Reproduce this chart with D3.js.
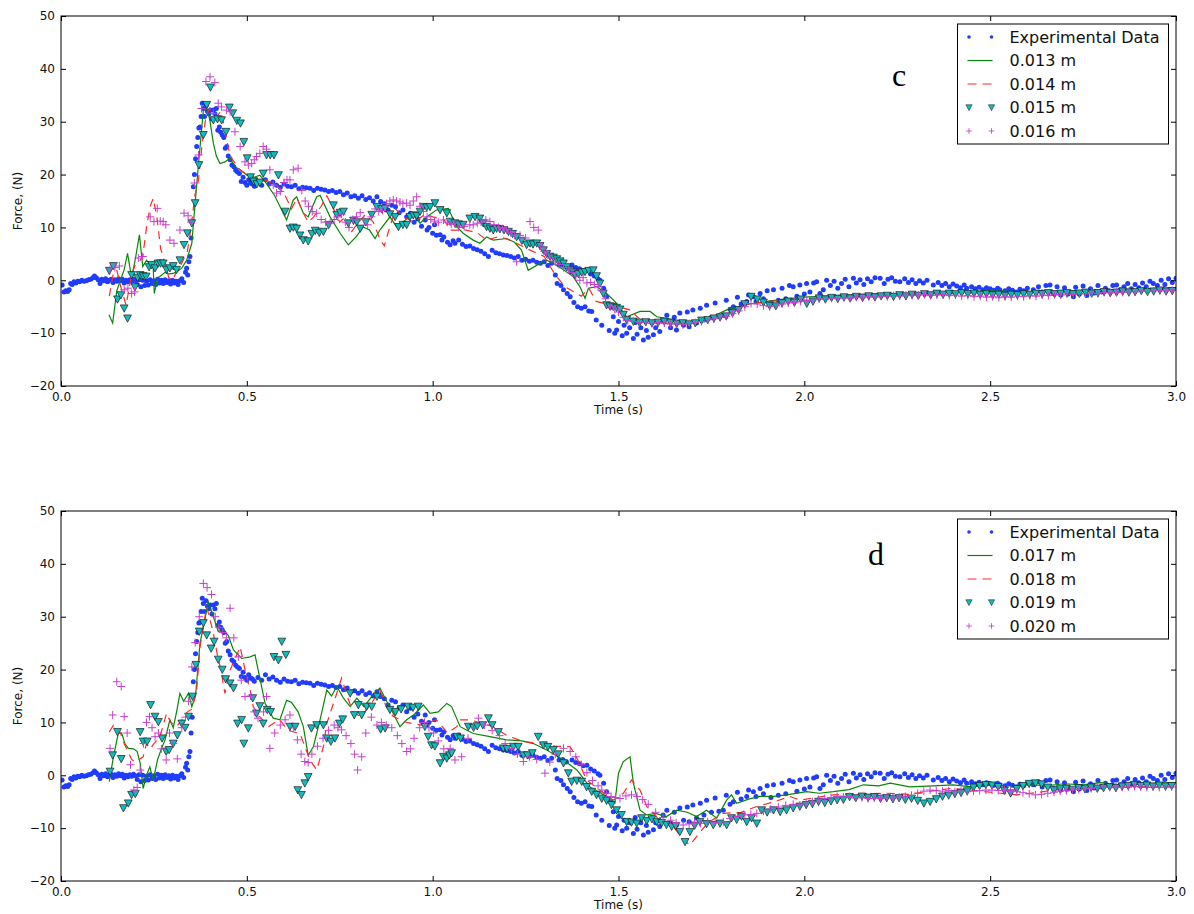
<!DOCTYPE html>
<html>
<head>
<meta charset="utf-8">
<script src="https://cdnjs.cloudflare.com/ajax/libs/d3/7.8.5/d3.min.js"></script>
<style>
body { margin: 0; background: #fff; }
text { font-family: 'DejaVu Sans', sans-serif; }
</style>
</head>
<body>
<div id="chart"></div>
<script>
(function() {
const width = 1194,
      height = 914

// experimental force trace, shared by both panels  [time s, force N]
const expData = [
  [0.003,-0.9],[0.008,-2.2],[0.013,-2.0],[0.018,-2.1],[0.022,-1.8],[0.026,-0.6],[0.03,-0.8],[0.035,-0.3],[0.04,-0.5],[0.045,-0.2],
  [0.05,-0.3],[0.056,0],[0.062,-0.2],[0.068,-0.1],[0.074,0.1],[0.08,0.2],[0.086,0.5],[0.09,0.8],[0.095,0.5],[0.1,0.1],
  [0.105,-0.6],[0.11,0.2],[0.115,-0.1],[0.12,0.3],[0.125,-0.3],[0.13,0],[0.135,0.2],[0.14,-0.4],[0.145,0.1],[0.15,-0.2],
  [0.155,0.3],[0.16,-0.1],[0.165,0.2],[0.17,-0.5],[0.175,0],[0.18,-0.3],[0.185,0.1],[0.19,-0.2],[0.195,0.2],[0.2,-0.1],
  [0.205,-0.8],[0.21,0.1],[0.215,-1.2],[0.22,0],[0.225,-1.0],[0.23,-0.2],[0.235,-0.9],[0.24,0.1],[0.245,-0.6],[0.25,-0.1],
  [0.255,-0.8],[0.26,0.2],[0.265,-0.5],[0.27,0],[0.275,-0.6],[0.28,0.1],[0.285,-0.4],[0.29,-0.1],[0.295,-0.7],[0.3,0],
  [0.305,-0.5],[0.31,-0.2],[0.315,-0.8],[0.32,-0.1],[0.325,0.3],[0.33,-0.4],[0.335,1.5],[0.338,2.3],[0.341,1.0],[0.344,3.5],
  [0.347,4.5],[0.35,8.0],[0.353,11],[0.356,17.7],[0.359,20],[0.362,23],[0.365,25.3],[0.368,27],[0.371,28.8],[0.374,29],
  [0.377,31],[0.38,33.5],[0.383,32.5],[0.386,31],[0.39,33],[0.394,32],[0.398,31.5],[0.402,32.2],[0.406,30.5],[0.41,32.2],
  [0.414,31.5],[0.418,32.5],[0.422,28.4],[0.426,29],[0.43,28],[0.434,27.5],[0.438,27],[0.442,25],[0.446,25.3],[0.45,23.5],
  [0.455,22.8],[0.46,21.8],[0.465,21.5],[0.47,20.8],[0.475,20.5],[0.48,20.2],[0.485,18.7],[0.49,19.5],[0.495,18.5],[0.5,18],
  [0.505,19],[0.51,18.4],[0.515,18.2],[0.52,17.8],[0.53,18.5],[0.54,18],[0.55,19],[0.56,18.2],[0.57,18.6],[0.58,18],
  [0.59,17.6],[0.6,18.2],[0.61,17.8],[0.62,17.7],[0.63,18.0],[0.64,17.3],[0.65,17.6],[0.66,17.5],[0.67,17.4],[0.68,17.0],
  [0.69,17.4],[0.7,17.2],[0.71,17.1],[0.72,16.8],[0.73,17.0],[0.74,16.6],[0.75,16.8],[0.76,16.2],[0.77,16.5],[0.78,15.8],
  [0.79,16.0],[0.8,15.5],[0.81,16.0],[0.82,15.3],[0.83,15.6],[0.84,15.0],[0.85,15.8],[0.86,14.9],[0.87,14.5],[0.88,13.3],
  [0.89,14.2],[0.9,13.9],[0.91,12.8],[0.92,13.3],[0.93,12.0],[0.94,12.7],[0.95,11.0],[0.96,11.6],[0.97,10.2],[0.98,11.4],
  [0.985,9.5],[0.99,10.0],[1.0,8.9],[1.005,10.5],[1.01,8.5],[1.02,8.6],[1.025,7.6],[1.03,8.2],[1.04,7.2],[1.047,6.7],
  [1.055,7.5],[1.06,7.0],[1.07,7.6],[1.08,6.8],[1.09,6.4],[1.1,6.5],[1.11,6.0],[1.12,5.8],[1.13,5.5],[1.14,5.0],
  [1.15,4.5],[1.16,5.7],[1.17,5.2],[1.18,5.0],[1.19,4.8],[1.2,4.7],[1.21,4.5],[1.22,4.2],[1.23,4.5],[1.24,3.8],
  [1.25,4.0],[1.26,3.6],[1.27,3.8],[1.28,3.4],[1.29,3.2],[1.3,3.5],[1.31,2.8],[1.32,3.2],[1.33,1.0],[1.335,-0.6],
  [1.34,2.9],[1.345,-1.0],[1.35,3.0],[1.352,-1.8],[1.36,2.5],[1.362,-2.5],[1.37,-3.1],[1.375,2.9],[1.38,-4.2],[1.385,2.4],
  [1.39,-5.0],[1.395,2.2],[1.40,-5.3],[1.405,1.8],[1.41,-5.0],[1.415,1.9],[1.42,-5.8],[1.425,1.2],[1.428,-5.9],[1.435,0.8],
  [1.44,-7.5],[1.445,0.3],[1.45,0],[1.455,-8.5],[1.46,-1.5],[1.468,-3.1],[1.475,-9.5],[1.48,-5.0],[1.486,-6.9],[1.49,-10.0],
  [1.495,-9.4],[1.5,-7.8],[1.51,-10.5],[1.515,-8.5],[1.522,-10],[1.53,-9.0],[1.54,-11],[1.545,-8.0],[1.55,-10.2],[1.56,-9.0],
  [1.567,-11.3],[1.575,-9.5],[1.58,-10.8],[1.59,-8.0],[1.594,-10.3],[1.6,-9.0],[1.611,-9.7],[1.62,-7.5],[1.63,-6.6],[1.64,-9.0],
  [1.65,-7.0],[1.656,-9.4],[1.665,-6.2],[1.675,-8.5],[1.685,-6.0],[1.69,-8.8],[1.7,-5.6],[1.71,-8.1],[1.72,-5.3],[1.73,-7.5],
  [1.737,-4.7],[1.75,-7.0],[1.76,-4.3],[1.77,-6.8],[1.782,-6.6],[1.79,-3.8],[1.8,-5.5],[1.809,-5],[1.82,-3.2],[1.83,-4.5],
  [1.845,-4],[1.85,-2.8],[1.863,-3.1],[1.87,-4.0],[1.881,-2.5],[1.89,-3.5],[1.9,-2.0],[1.91,-4.2],[1.917,-1.8],[1.93,-3.8],
  [1.94,-1.5],[1.95,-3.5],[1.96,-1.0],[1.97,-1.2],[1.98,-3.0],[1.988,-0.9],[2.0,-2.6],[2.006,-0.6],[2.015,-2.2],[2.025,-0.5],
  [2.033,-0.3],[2.042,-2.5],[2.051,-1.8],[2.06,0],[2.07,-1.0],[2.08,-0.2],[2.09,-1.5],[2.1,-0.6],[2.11,0.2],[2.12,-1.2],
  [2.132,0.4],[2.14,-0.5],[2.15,0.1],[2.16,-0.8],[2.17,0.3],[2.18,-0.3],[2.19,0.5],[2.204,0.4],[2.215,-0.6],[2.225,0.2],
  [2.235,0.5],[2.245,-0.2],[2.257,-0.3],[2.27,0.3],[2.28,-0.4],[2.29,0.1],[2.3,-0.6],[2.31,-0.1],[2.32,-0.5],[2.33,0],
  [2.347,-0.9],[2.36,-0.4],[2.37,-1.0],[2.38,-0.6],[2.39,-1.2],[2.4,-0.7],[2.41,-1.1],[2.42,-1.4],[2.43,-0.9],[2.437,-1.5],
  [2.45,-1.2],[2.46,-1.6],[2.47,-1.3],[2.48,-1.8],[2.49,-1.4],[2.5,-1.6],[2.51,-1.9],[2.52,-1.5],[2.526,-1.8],[2.54,-2.0],
  [2.55,-1.6],[2.56,-1.9],[2.57,-2.2],[2.58,-1.7],[2.59,-2.0],[2.6,-1.5],[2.616,-1.8],[2.63,-1.2],[2.64,-2.2],[2.65,-1.0],
  [2.661,-0.9],[2.67,-2.5],[2.68,-1.2],[2.69,-2.8],[2.7,-1.4],[2.71,-2.6],[2.724,-3.1],[2.73,-1.3],[2.74,-2.6],[2.75,-1.1],
  [2.76,-2.9],[2.77,-1.6],[2.78,-2.4],[2.79,-1.0],[2.8,-2.2],[2.81,-1.5],[2.82,-2.0],[2.83,-1.0],[2.84,-0.9],[2.85,-1.8],
  [2.86,-1.2],[2.87,-0.6],[2.88,-1.6],[2.89,-0.8],[2.9,-1.4],[2.91,-0.5],[2.92,-1.2],[2.93,-0.2],[2.939,-0.6],[2.95,-1.0],
  [2.96,0],[2.97,-0.8],[2.98,0.3],[2.99,-0.4],[3.0,0.4]
]

// panel c
const namesC = ['Experimental Data', '0.013 m', '0.014 m', '0.015 m', '0.016 m']

const cGreen = [
  [0.129,-6.5],[0.139,-8.1],[0.15,-2],[0.16,0],[0.17,2],[0.179,5.1],[0.19,0.4],[0.2,4],[0.211,8.6],[0.22,2.6],
  [0.23,3.8],[0.24,3.0],[0.248,2.6],[0.251,-2.5],[0.26,0.5],[0.266,0.7],[0.28,1.5],[0.29,1.2],[0.302,1.3],[0.315,1.8],
  [0.325,2.3],[0.338,3.8],[0.352,7],[0.36,13.9],[0.371,22.8],[0.383,32.2],[0.392,32.5],[0.40,30.5],[0.41,25.9],[0.418,23.5],
  [0.428,22.1],[0.441,22.4],[0.455,23.1],[0.468,21.5],[0.482,20.9],[0.5,19.9],[0.52,19.5],[0.535,19.9],[0.553,18.3],[0.575,16],
  [0.598,12.7],[0.607,11.4],[0.625,15.2],[0.634,15.8],[0.652,12.7],[0.665,12],[0.688,15.8],[0.697,16.1],[0.724,12],[0.751,8.9],
  [0.773,6.7],[0.795,8.3],[0.813,10.1],[0.83,9.5],[0.845,7.9],[0.858,9.5],[0.885,12],[0.903,10.1],[0.92,11],[0.948,12.7],
  [0.966,10.8],[0.984,12],[1.01,13.3],[1.042,13.6],[1.065,10.1],[1.082,8.9],[1.109,7.6],[1.127,7],[1.145,8.2],[1.163,7.6],
  [1.199,7.9],[1.22,7.2],[1.239,5.7],[1.257,1.9],[1.289,3.2],[1.307,3.8],[1.33,3.0],[1.352,2.0],[1.378,0.7],[1.396,-1.2],
  [1.41,-3.4],[1.419,-1.5],[1.441,-1.2],[1.468,-2.5],[1.49,-4],[1.522,-6.9],[1.558,-5.9],[1.585,-5.9],[1.603,-6.9],[1.65,-7.5],
  [1.701,-8.1],[1.75,-7.0],[1.791,-5.6],[1.85,-4.5],[1.9,-4.0],[1.95,-3.5],[2.0,-3.2],[2.1,-2.8],[2.2,-2.5],[2.3,-2.6],
  [2.4,-2.2],[2.5,-2.0],[2.6,-2.2],[2.7,-2.0],[2.8,-1.8],[2.9,-1.6],[3.0,-1.4]
]

const cRed = [
  [0.13,-3],[0.14,1],[0.15,2],[0.16,-1],[0.175,-4.7],[0.19,1],[0.2,3],[0.21,3.5],[0.22,4.5],[0.23,10],
  [0.24,14],[0.248,15.5],[0.258,12],[0.268,6],[0.28,3.2],[0.29,0.5],[0.3,0],[0.31,1.5],[0.32,2.5],[0.33,4],
  [0.34,5.5],[0.35,10],[0.36,16],[0.37,19],[0.38,26],[0.39,31],[0.40,32.5],[0.41,31.5],[0.42,31],[0.43,32],
  [0.44,29],[0.45,25],[0.46,23],[0.47,22],[0.48,21],[0.5,20],[0.52,19.5],[0.55,19],[0.58,18],[0.6,16.5],
  [0.61,15],[0.62,13.5],[0.635,15.5],[0.65,13],[0.665,11],[0.68,12],[0.7,14],[0.715,16],[0.73,14],[0.75,11],
  [0.765,12],[0.78,9],[0.8,11],[0.82,12.5],[0.84,11],[0.86,7.5],[0.87,6.5],[0.88,9],[0.9,13.5],[0.92,12],
  [0.95,11],[0.98,12.5],[1.0,12],[1.03,11.5],[1.047,9.5],[1.09,9.5],[1.12,9],[1.145,7.6],[1.18,8.3],[1.21,7.5],
  [1.24,6.5],[1.262,5.7],[1.3,4.5],[1.33,1],[1.356,-1.2],[1.4,-3],[1.42,-1.5],[1.44,-4],[1.47,-4.5],[1.5,-5],
  [1.53,-5.6],[1.56,-7.5],[1.6,-8],[1.65,-8.2],[1.7,-8],[1.75,-7],[1.8,-6],[1.85,-4.5],[1.9,-4],[1.95,-3.8],
  [2.0,-3.5],[2.1,-3.2],[2.2,-3],[2.3,-2.8],[2.4,-2.5],[2.5,-2.2],[2.6,-2.3],[2.7,-2.1],[2.8,-2.0],[2.9,-1.8],[3.0,-1.6]
]

const cTri = [
  [0.13,1.8],[0.141,2.7],[0.152,-3.6],[0.161,-2.8],[0.17,-5.3],[0.179,-7.2],[0.19,1],[0.199,-1.3],[0.206,0.5],[0.213,1],
  [0.221,0.8],[0.229,0.7],[0.237,2.5],[0.244,2.9],[0.253,2.3],[0.261,3.2],[0.268,3.2],[0.275,3.2],[0.284,2],[0.293,2.3],
  [0.302,2.7],[0.311,2],[0.32,3.8],[0.331,6.7],[0.34,8.9],[0.352,10.8],[0.361,14.6],[0.371,21.8],[0.383,27.5],[0.392,33.2],
  [0.402,36.5],[0.41,30.3],[0.421,30.5],[0.432,30.3],[0.444,28.1],[0.453,32.7],[0.462,31.6],[0.473,30.2],[0.483,29.7],[0.492,26.2],
  [0.501,23.1],[0.51,19.5],[0.518,18.7],[0.527,18.2],[0.535,18.5],[0.544,20.2],[0.553,23.7],[0.563,23.7],[0.573,23.7],[0.585,19.9],
  [0.603,13],[0.616,9.8],[0.625,10],[0.634,9.8],[0.643,8.5],[0.652,7.6],[0.665,7.4],[0.675,8.8],[0.684,9.4],[0.695,9],
  [0.706,9.2],[0.72,10.5],[0.733,14.2],[0.742,12.4],[0.751,12.8],[0.76,13],[0.773,10.8],[0.787,11.3],[0.796,11],[0.805,9.8],
  [0.82,11],[0.836,12.4],[0.85,13.9],[0.862,13.5],[0.872,13.6],[0.885,12.5],[0.899,12],[0.908,10.1],[0.92,10.5],[0.93,10.5],
  [0.939,12],[0.948,12.3],[0.957,12.2],[0.966,13],[0.975,13.9],[0.984,13.8],[0.993,13.9],[1.006,14.6],[1.02,13.3],[1.038,12.7],
  [1.047,11.1],[1.06,10.8],[1.07,10.6],[1.082,10.5],[1.1,11.7],[1.114,12],[1.127,11.7],[1.136,10.8],[1.145,10.1],[1.154,9.8],
  [1.163,9.5],[1.172,9.8],[1.181,9.7],[1.192,9.5],[1.204,9.2],[1.215,8.8],[1.226,8.2],[1.24,7.5],[1.253,6.7],[1.262,7],
  [1.27,6.8],[1.28,7],[1.289,6.5],[1.298,5.7],[1.307,5],[1.316,4.5],[1.325,4.3],[1.334,4],[1.343,3.6],[1.352,3.2],
  [1.361,2.5],[1.37,1.9],[1.378,1.5],[1.383,1],[1.392,1.2],[1.401,1.5],[1.41,1.6],[1.42,1.8],[1.432,1.9],[1.441,0.8],
  [1.45,-0.6],[1.459,-2.5],[1.468,-4.7],[1.477,-4.9],[1.486,-5],[1.495,-5.2],[1.504,-5.5],[1.513,-6.5],[1.522,-7.5]
]
// from t = 1.54 s onward, one value every 1/60 s
const cTriTail = [
  -7.8,-8.0,-7.9,-8.1,-8.0,-7.8,-8.0,-8.2,-8.1,-8.3,
  -8.1,-7.6,-7.5,-7.2,-7.0,-6.8,-6.2,-5.6,-4.5,-3.1,
  -3.6,-4.2,-4.8,-4.9,-4.3,-4.0,-4.2,-3.6,-4.4,-4.0,
  -3.4,-3.6,-3.3,-3.5,-3.2,-3.4,-3.1,-3.3,-3.0,-3.2,
  -3.0,-2.9,-3.1,-2.8,-3.0,-2.7,-2.9,-2.6,-2.8,-2.5,
  -2.7,-2.5,-2.6,-2.4,-2.6,-2.5,-2.7,-2.6,-2.8,-2.7,
  -2.9,-2.7,-2.8,-2.6,-2.7,-2.5,-2.6,-2.4,-2.6,-2.5,
  -2.4,-2.6,-2.5,-2.3,-2.5,-2.4,-2.2,-2.4,-2.3,-2.1,
  -2.3,-2.2,-2.0,-2.2,-2.1,-1.9,-2.1,-2.0
]

const cPlus = [
  [0.132,2.1],[0.145,2.4],[0.157,2.7],[0.17,-1.8],[0.18,-1.5],[0.19,-2.5],[0.198,-2.2],[0.208,4.2],[0.22,4.5],[0.24,12],
  [0.25,11.1],[0.259,13.6],[0.267,11.2],[0.275,11.1],[0.282,10.5],[0.293,7.6],[0.304,7],[0.32,9.5],[0.331,12.7],[0.342,12.2],
  [0.35,11],[0.359,18.4],[0.37,23.7],[0.378,32.5],[0.39,37.6],[0.401,38.5],[0.414,37.4],[0.41,31.6],[0.423,33.5],[0.432,32.8],
  [0.445,32.2],[0.455,31.9],[0.468,28.1],[0.482,25.3],[0.495,22.4],[0.504,21.8],[0.513,22.1],[0.52,22.8],[0.526,23.4],[0.535,24],
  [0.544,25.3],[0.553,24.8],[0.562,20.9],[0.571,18],[0.58,16.5],[0.59,16.8],[0.6,18.5],[0.608,19],[0.616,19],[0.625,20.9],
  [0.638,21.2],[0.648,17],[0.657,15],[0.666,14],[0.676,13],[0.688,12.7],[0.7,11.5],[0.712,11],[0.724,10.8],[0.735,11.5],
  [0.745,12],[0.755,12.5],[0.765,11],[0.775,10],[0.785,11.5],[0.795,12],[0.805,12.8],[0.815,11.5],[0.825,10.5],[0.835,12],
  [0.845,13.5],[0.855,13],[0.865,13.2],[0.876,14.5],[0.885,15],[0.894,15.2],[0.903,15],[0.912,14.8],[0.92,14.5],[0.93,14.6],
  [0.939,14.2],[0.948,15],[0.957,15.8],[0.966,14],[0.975,13],[0.985,12],[0.995,11.5],[1.005,11.2],[1.015,11],[1.029,11.4],
  [1.04,11],[1.05,10.6],[1.06,10.8],[1.07,10],[1.085,10.2],[1.1,10.5],[1.109,10.5],[1.12,10.8],[1.13,11],[1.143,11.4],
  [1.154,11.1],[1.165,10.5],[1.177,10],[1.188,9.8],[1.199,9.5],[1.21,9],[1.22,8.5],[1.226,3.5],[1.235,8.5],[1.25,8],
  [1.262,11.1],[1.272,10],[1.284,9.5],[1.29,6.5],[1.3,5.5],[1.307,5],[1.318,4.2],[1.33,3.5],[1.34,3],[1.352,2.4],
  [1.365,2],[1.375,1.5],[1.385,0.8],[1.396,0],[1.405,0.5],[1.415,-0.5],[1.425,-0.4],[1.435,-0.8],[1.445,-1.2],[1.455,-2],
  [1.465,-3.5],[1.478,-5],[1.49,-5.5],[1.5,-6],[1.513,-7],[1.525,-7.6]
]
const cPlusTail = [
  -7.8,-8.0,-7.9,-8.2,-8.0,-8.1,-8.3,-8.2,-8.4,-8.2,
  -8.0,-7.8,-7.5,-7.3,-7.0,-6.8,-6.3,-5.8,-5.0,-4.4,
  -4.5,-4.8,-5.0,-4.8,-4.5,-4.3,-4.2,-4.0,-3.8,-3.7,
  -3.5,-3.6,-3.4,-3.5,-3.3,-3.4,-3.2,-3.3,-3.1,-3.2,
  -3.0,-3.1,-2.9,-3.0,-2.8,-2.9,-2.8,-2.7,-2.9,-2.8,
  -2.7,-2.9,-2.8,-3.0,-2.9,-3.1,-3.0,-3.2,-3.1,-3.3,
  -3.1,-3.2,-3.0,-3.1,-2.9,-3.0,-2.8,-2.9,-2.7,-2.8,
  -2.6,-2.7,-2.5,-2.6,-2.4,-2.5,-2.3,-2.4,-2.2,-2.3,
  -2.1,-2.2,-2.0,-2.1,-2.0,-1.9,-2.0,-1.9
]

// panel d
const namesD = ['Experimental Data', '0.017 m', '0.018 m', '0.019 m', '0.020 m']

const dGreen = [
  [0.13,-1.2],[0.141,3.5],[0.154,7.9],[0.163,8],[0.172,6],[0.181,5.1],[0.195,5],[0.205,4.5],[0.213,2.3],[0.221,-2.5],
  [0.23,0],[0.239,1.6],[0.248,-0.9],[0.26,3],[0.27,5],[0.28,6.7],[0.293,10.5],[0.302,9],[0.311,12],[0.32,15.5],
  [0.33,14],[0.343,15.5],[0.352,13],[0.362,15],[0.374,25],[0.387,29.4],[0.396,32.8],[0.41,30],[0.423,27.2],[0.436,27.5],
  [0.45,26.5],[0.464,23.7],[0.486,22.1],[0.509,22.4],[0.522,22.8],[0.535,18.4],[0.549,13.6],[0.571,10.8],[0.589,10.5],[0.607,14.2],
  [0.62,13.8],[0.638,12],[0.652,9.2],[0.665,3.8],[0.679,5.4],[0.697,10.5],[0.715,16.1],[0.728,15],[0.742,16.8],[0.76,14.6],
  [0.778,13],[0.796,14.6],[0.815,13],[0.836,14.9],[0.858,16.5],[0.876,14],[0.894,11.7],[0.912,9.2],[0.93,10.5],[0.95,11.5],
  [0.975,13.3],[0.993,11.7],[1.015,12],[1.038,13.6],[1.051,13],[1.074,9.2],[1.109,7.9],[1.154,7.3],[1.199,6.7],[1.24,6.5],
  [1.271,6],[1.307,4.8],[1.352,2.9],[1.388,1],[1.423,-2.2],[1.468,-4],[1.49,-5.3],[1.5,0.4],[1.513,2.6],[1.531,3.5],
  [1.54,-1.5],[1.558,-6.6],[1.576,-7.5],[1.6,-7.2],[1.629,-7.8],[1.656,-6.6],[1.685,-7],[1.71,-7.8],[1.737,-6.6],[1.764,-8.1],
  [1.791,-4.7],[1.804,-3.7],[1.818,-5.3],[1.85,-4.5],[1.88,-4],[1.917,-4],[1.952,-3.7],[2.006,-3.1],[2.04,-3.4],[2.078,-3.1],
  [2.12,-2.7],[2.159,-1.8],[2.2,-2.0],[2.231,-1.5],[2.284,-2.2],[2.347,-2.0],[2.4,-1.8],[2.45,-2.2],[2.5,-1.8],[2.55,-2.0],
  [2.6,-1.7],[2.65,-2.0],[2.7,-1.6],[2.75,-1.8],[2.796,-1.4],[2.85,-1.8],[2.9,-1.6],[2.95,-1.5],[3.0,-1.4]
]

const dRed = [
  [0.13,8.2],[0.141,9.5],[0.15,9],[0.16,8],[0.17,6],[0.18,4.5],[0.19,3],[0.2,2.5],[0.208,2.9],[0.221,3.5],
  [0.23,6],[0.24,5],[0.25,6],[0.266,7.3],[0.284,11.7],[0.295,10],[0.311,9.2],[0.325,10.5],[0.34,12],[0.352,12.5],
  [0.365,16.1],[0.374,24.3],[0.392,31.9],[0.41,26.9],[0.42,23],[0.43,20],[0.441,15.5],[0.455,19.9],[0.468,22],[0.482,24.3],
  [0.495,20],[0.513,14.9],[0.517,13],[0.535,11.1],[0.558,9.2],[0.575,10],[0.589,10.5],[0.61,8.5],[0.643,7.9],[0.67,2.9],
  [0.688,1],[0.706,5.4],[0.715,9.8],[0.735,14],[0.755,18.4],[0.77,15],[0.785,12],[0.805,11.1],[0.83,13],[0.858,16.1],
  [0.875,13],[0.894,11.1],[0.93,10],[0.97,9.5],[1.01,10.5],[1.04,8],[1.065,9.2],[1.074,10.5],[1.1,10.5],[1.163,9.2],
  [1.2,7.5],[1.24,6.5],[1.28,6],[1.33,5.5],[1.37,5.4],[1.39,3],[1.414,-0.9],[1.45,-2.8],[1.486,-4.7],[1.513,-3.4],
  [1.535,-0.9],[1.558,-2.8],[1.576,-5.9],[1.611,-8.5],[1.64,-9],[1.674,-12.2],[1.692,-13.2],[1.71,-11.6],[1.74,-9],[1.782,-7.2],
  [1.83,-7],[1.872,-5.9],[1.92,-5],[1.961,-4],[1.988,-4.7],[2.03,-4.2],[2.078,-3.7],[2.15,-3.5],[2.222,-3.4],[2.28,-3.6],
  [2.33,-3.1],[2.392,-2.5],[2.45,-2.8],[2.5,-3.2],[2.571,-3.7],[2.62,-3.3],[2.706,-2.5],[2.8,-2.4],[2.885,-2.2],[3.0,-2.2]
]

const dTri = [
  [0.132,0.7],[0.139,3.8],[0.152,8.2],[0.162,3.1],[0.168,-6.2],[0.181,-5.3],[0.19,-3.7],[0.2,-3.5],[0.213,8.2],[0.221,6.4],
  [0.232,6.4],[0.241,13.3],[0.253,11.1],[0.262,10.1],[0.272,7],[0.283,4.5],[0.291,4.8],[0.302,6],[0.313,7.6],[0.325,9.8],
  [0.334,9],[0.343,11.1],[0.354,14.9],[0.363,20.9],[0.372,27.2],[0.383,28.8],[0.392,26.5],[0.404,24],[0.412,25.3],[0.423,21.9],
  [0.434,20],[0.443,18.2],[0.455,17.4],[0.464,16.5],[0.475,9.8],[0.486,10.5],[0.492,6],[0.504,8.9],[0.516,14.6],[0.526,11.7],
  [0.535,13.1],[0.544,9.8],[0.555,12.4],[0.564,12],[0.573,22.4],[0.585,21.8],[0.594,25.3],[0.605,22.8],[0.616,9.2],[0.63,9.2],
  [0.637,-2.8],[0.647,-3.7],[0.656,-1.5],[0.665,-0.3],[0.674,8.9],[0.688,9.5],[0.706,9.5],[0.715,7],[0.726,6.4],[0.737,7],
  [0.749,9.8],[0.758,10.6],[0.778,15.5],[0.789,11.4],[0.8,13.3],[0.809,11.4],[0.822,13],[0.836,13],[0.85,14.9],[0.86,8.7],
  [0.872,8.9],[0.885,12.4],[0.9,12],[0.915,12.5],[0.934,13],[0.947,12.8],[0.961,13],[0.979,9.2],[0.988,7.3],[0.997,5.7],
  [1.006,5.5],[1.02,2.3],[1.029,3.5],[1.038,3.2],[1.045,3.8],[1.051,4.2],[1.065,7.3],[1.075,7],[1.096,9.2],[1.11,9],
  [1.12,9.3],[1.135,9.5],[1.15,10.8],[1.16,9.5],[1.177,8.2],[1.19,5.1],[1.2,5],[1.217,5.4],[1.23,5.4],[1.244,3.8],
  [1.255,3.8],[1.268,4.2],[1.284,7.3],[1.298,5.7],[1.31,5.4],[1.325,4.8],[1.338,4],[1.352,2.3],[1.365,0.4],[1.374,-1.2],
  [1.388,-1.0],[1.401,-1.2],[1.414,-2.2],[1.428,-3.1],[1.441,-3.7],[1.455,-4.4],[1.468,-4.8],[1.481,-5.6],[1.495,-6.6],[1.508,-7.5],
  [1.522,-8.8],[1.535,-8.9],[1.549,-9.1],[1.562,-8.1],[1.576,-8.6],[1.59,-8.3],[1.603,-8.8],[1.616,-9],[1.629,-9.4],[1.643,-9.7],
  [1.654,-9.6],[1.665,-10.7],[1.679,-12.6],[1.692,-10.7],[1.705,-9.5],[1.719,-8.8],[1.737,-9.2],[1.755,-9.4],[1.773,-9.1],[1.791,-9.4],
  [1.804,-8.1],[1.818,-8.4],[1.831,-7.8],[1.845,-8.8],[1.858,-8.1],[1.872,-9.1],[1.885,-6.6],[1.9,-7],[1.917,-6.6],[1.935,-6.9],
  [1.952,-6.6],[1.97,-6.2],[1.988,-5.9]
]
// from t = 2.005 s onward, one value every 1/60 s
const dTriTail = [
  -5.6,-5.4,-5.0,-5.2,-4.9,-4.7,-4.6,-4.1,-4.3,-4.0,
  -4.2,-4.1,-4.4,-4.3,-4.5,-4.3,-4.6,-4.4,-4.8,-5.3,
  -5.0,-4.5,-4.0,-3.8,-3.5,-3.3,-3.0,-2.3,-2.0,-1.8,
  -1.9,-2.2,-2.9,-3.4,-2.6,-2.0,-1.6,-1.5,-1.7,-2.3,
  -2.8,-2.6,-2.5,-2.7,-2.4,-2.6,-2.3,-2.5,-2.4,-2.2,
  -2.4,-2.1,-2.0,-1.8,-2.0,-1.9,-2.1,-1.9,-2.1,-2.0
]

const dPlus = [
  [0.132,5.1],[0.139,11.4],[0.15,17.7],[0.162,16.8],[0.17,11.1],[0.178,8],[0.187,2],[0.196,-2.8],[0.205,-2.3],[0.213,1],
  [0.222,6],[0.23,10],[0.238,11.1],[0.245,9],[0.253,7.3],[0.262,8],[0.27,5],[0.283,2.9],[0.292,8],[0.302,6],
  [0.313,3.1],[0.325,9],[0.335,11],[0.343,14],[0.352,20.5],[0.361,25.1],[0.372,30],[0.383,36.3],[0.393,35.5],[0.405,34.2],
  [0.415,30],[0.425,28],[0.435,27],[0.445,26],[0.455,31.6],[0.465,26],[0.477,22.4],[0.485,18],[0.495,14.9],[0.51,15],
  [0.52,12],[0.53,10.8],[0.545,12],[0.553,14.9],[0.562,5.1],[0.575,8],[0.59,9.5],[0.603,10.5],[0.616,11.4],[0.625,9],
  [0.636,6.7],[0.646,4],[0.656,2.6],[0.665,2.4],[0.675,4],[0.69,5.5],[0.705,7],[0.72,8.5],[0.735,9.5],[0.745,9],
  [0.755,8.6],[0.767,7.5],[0.78,6],[0.79,4],[0.798,1],[0.809,3.5],[0.82,8],[0.835,11],[0.85,9.5],[0.862,10],
  [0.875,9.5],[0.89,9],[0.905,7.5],[0.917,6],[0.93,4.5],[0.94,5],[0.95,7],[0.965,9],[0.978,10],[0.99,9],
  [1.002,8],[1.015,6.5],[1.03,5],[1.047,5.1],[1.06,2.9],[1.078,3.5],[1.095,7],[1.11,9],[1.123,10.8],[1.14,9.5],
  [1.16,8.5],[1.18,7.5],[1.195,6],[1.212,5.1],[1.228,4],[1.244,2.6],[1.26,3.5],[1.28,3],[1.302,0.4],[1.315,2.5],
  [1.33,4],[1.352,5.1],[1.37,4.5],[1.385,3.5],[1.4,2],[1.415,0.5],[1.43,-1],[1.445,-2],[1.455,-2.8],[1.468,-3.4],
  [1.48,-4],[1.492,-4.2],[1.504,-4.4],[1.52,-3.9],[1.535,-3.7],[1.55,-4],[1.565,-4.6],[1.58,-5.5],[1.6,-7],[1.62,-8],
  [1.64,-8.5],[1.655,-9],[1.674,-9.4],[1.69,-9.2],[1.705,-9],[1.72,-9.1],[1.74,-8.8],[1.76,-8.9],[1.782,-8.8],[1.8,-8.2],
  [1.82,-7.8],[1.84,-7.5],[1.856,-7.4],[1.872,-7.2],[1.89,-6.8],[1.91,-6.4],[1.93,-6],[1.95,-5.7],[1.97,-5.5],[1.988,-5.6]
]
const dPlusTail = [
  -5.3,-5.0,-4.6,-4.4,-4.2,-4.0,-4.1,-4.0,-4.3,-4.2,
  -4.4,-4.3,-4.4,-4.2,-4.3,-4.1,-4.0,-3.8,-3.4,-3.0,
  -2.8,-2.9,-3.0,-2.9,-3.1,-3.0,-3.1,-3.0,-2.9,-2.8,
  -2.8,-2.9,-2.8,-2.9,-3.1,-3.3,-3.5,-3.7,-3.6,-3.4,
  -3.2,-3.0,-2.9,-2.8,-2.7,-2.6,-2.5,-2.3,-2.2,-2.3,
  -2.2,-2.3,-2.2,-2.1,-2.2,-2.3,-2.2,-2.3,-2.2,-2.2
]

const xTicks = [0, 0.5, 1.0, 1.5, 2.0, 2.5, 3.0]
const yTicks = [-20, -10, 0, 10, 20, 30, 40, 50]

function withTail(head, start, tail) {
  return head.concat(tail.map(function(v, i) { return [start + i / 60, v] }))
}

const panels = [
  { top: 16, letter: 'c', letterAt: [2.255, 36.8], names: namesC,
    green: cGreen, red: cRed, tri: withTail(cTri, 1.54, cTriTail), plus: withTail(cPlus, 1.54, cPlusTail) },
  { top: 511, letter: 'd', letterAt: [2.193, 39.8], names: namesD,
    green: dGreen, red: dRed, tri: withTail(dTri, 2.005, dTriTail), plus: withTail(dPlus, 2.005, dPlusTail) }
]

const plotLeft = 61,
      plotRight = 1176,
      plotH = 370

const svg = d3.select('#chart')
  .append('svg')
  .attr('width', width)
  .attr('height', height)
  .style('background', '#fff')

const x = d3.scaleLinear()
  .domain([0, 3])
  .range([plotLeft, plotRight])

const triPath = 'M-3.9,-3.4L3.9,-3.4L0,3.9Z'
const plusPath = 'M-4,0H4M0,-4V4'

const colors = {
  exp: '#1f3cff',
  green: '#0a860a',
  red: '#ff2a2a',
  tri: '#10bcbc',
  plus: '#c63fcf'
}

panels.forEach(drawPanel)

function drawPanel(p, idx) {
  const y = d3.scaleLinear()
    .domain([-20, 50])
    .range([p.top + plotH, p.top])

  const g = svg.append('g')

  svg.append('clipPath')
    .attr('id', 'clip' + idx)
    .append('rect')
    .attr('x', plotLeft)
    .attr('y', p.top)
    .attr('width', plotRight - plotLeft)
    .attr('height', plotH)

  const plot = g.append('g').attr('clip-path', 'url(#clip' + idx + ')')

  plot.selectAll('.exp')
    .data(expData)
    .enter().append('circle')
    .attr('class', 'exp')
    .attr('cx', function(d) { return x(d[0]) })
    .attr('cy', function(d) { return y(d[1]) })
    .attr('r', 2.5)
    .style('fill', colors.exp)

  const line = d3.line()
    .x(function(d) { return x(d[0]) })
    .y(function(d) { return y(d[1]) })

  plot.append('path')
    .datum(p.green)
    .attr('d', line)
    .style('fill', 'none')
    .style('stroke', colors.green)
    .style('stroke-width', 1.2)

  plot.append('path')
    .datum(p.red)
    .attr('d', line)
    .style('fill', 'none')
    .style('stroke', colors.red)
    .style('stroke-width', 1.2)
    .style('stroke-dasharray', '8,6')

  plot.selectAll('.tri')
    .data(p.tri)
    .enter().append('path')
    .attr('class', 'tri')
    .attr('d', triPath)
    .attr('transform', function(d) { return 'translate(' + x(d[0]) + ',' + y(d[1]) + ')' })
    .style('fill', colors.tri)
    .style('stroke', '#1d1d1d')
    .style('stroke-width', 0.7)

  plot.selectAll('.plus')
    .data(p.plus)
    .enter().append('path')
    .attr('class', 'plus')
    .attr('d', plusPath)
    .attr('transform', function(d) { return 'translate(' + x(d[0]) + ',' + y(d[1]) + ')' })
    .style('fill', 'none')
    .style('stroke', colors.plus)
    .style('stroke-width', 1)

  // ticks point inwards on all four sides, labels only bottom/left
  const bottom = g.append('g')
    .attr('transform', 'translate(0,' + (p.top + plotH) + ')')
    .call(d3.axisBottom(x).tickValues(xTicks).tickSize(-5).tickSizeOuter(0).tickPadding(6).tickFormat(d3.format('.1f')))
  const left = g.append('g')
    .attr('transform', 'translate(' + plotLeft + ',0)')
    .call(d3.axisLeft(y).tickValues(yTicks).tickSize(-5).tickSizeOuter(0).tickPadding(6).tickFormat(d3.format('d')))
  const topAx = g.append('g')
    .attr('transform', 'translate(0,' + p.top + ')')
    .call(d3.axisTop(x).tickValues(xTicks).tickSize(-5).tickSizeOuter(0).tickFormat(''))
  const right = g.append('g')
    .attr('transform', 'translate(' + plotRight + ',0)')
    .call(d3.axisRight(y).tickValues(yTicks).tickSize(-5).tickSizeOuter(0).tickFormat(''))

  ;[bottom, left, topAx, right].forEach(function(a) {
    a.select('.domain').remove()
    a.selectAll('line').style('stroke', '#000')
    a.selectAll('text')
      .style('font-family', 'DejaVu Sans, sans-serif')
      .style('font-size', '12px')
      .style('fill', '#111')
  })

  g.append('rect')
    .attr('x', plotLeft)
    .attr('y', p.top)
    .attr('width', plotRight - plotLeft)
    .attr('height', plotH)
    .style('fill', 'none')
    .style('stroke', '#000')
    .style('stroke-width', 1)

  g.append('text')
    .attr('transform', 'translate(18,' + (p.top + plotH / 2) + ') rotate(-90)')
    .attr('text-anchor', 'middle')
    .attr('dy', '0.35em')
    .style('font-size', '12px')
    .style('fill', '#111')
    .text('Force, (N)')

  g.append('text')
    .attr('x', (plotLeft + plotRight) / 2)
    .attr('y', p.top + plotH + 28)
    .attr('text-anchor', 'middle')
    .style('font-size', '12px')
    .style('fill', '#111')
    .text('Time (s)')

  g.append('text')
    .attr('x', x(p.letterAt[0]))
    .attr('y', y(p.letterAt[1]))
    .attr('text-anchor', 'middle')
    .style('font-family', 'Liberation Serif, serif')
    .style('font-size', '32px')
    .text(p.letter)

  // legend
  const lg = g.append('g').attr('transform', 'translate(957.5,' + (p.top + 8) + ')')
  lg.append('rect')
    .attr('width', 211)
    .attr('height', 120)
    .style('fill', '#fff')
    .style('stroke', '#000')
    .style('stroke-width', 1)

  const rowY = function(i) { return 13 + i * 23.5 }
  const mx = [11.5, 34]

  mx.forEach(function(m) {
    lg.append('circle').attr('cx', m).attr('cy', rowY(0)).attr('r', 1.8).style('fill', colors.exp)
    lg.append('path').attr('d', triPath).attr('transform', 'translate(' + m + ',' + rowY(3) + ') scale(0.8)')
      .style('fill', colors.tri).style('stroke', '#1d1d1d').style('stroke-width', 0.7)
    lg.append('path').attr('d', plusPath).attr('transform', 'translate(' + m + ',' + rowY(4) + ') scale(0.7)')
      .style('fill', 'none').style('stroke', colors.plus).style('stroke-width', 1.2)
  })
  lg.append('line').attr('x1', 10).attr('x2', 35).attr('y1', rowY(1)).attr('y2', rowY(1))
    .style('stroke', colors.green).style('stroke-width', 1.2)
  lg.append('line').attr('x1', 10).attr('x2', 35).attr('y1', rowY(2)).attr('y2', rowY(2))
    .style('stroke', colors.red).style('stroke-width', 1.2).style('stroke-dasharray', '9,6')

  lg.selectAll('.lgtext')
    .data(p.names)
    .enter().append('text')
    .attr('class', 'lgtext')
    .attr('x', 52)
    .attr('y', function(d, i) { return rowY(i) })
    .attr('dy', '0.35em')
    .style('font-size', '16px')
    .style('fill', '#111')
    .text(function(d) { return d })
}

})()
</script>
</body>
</html>
